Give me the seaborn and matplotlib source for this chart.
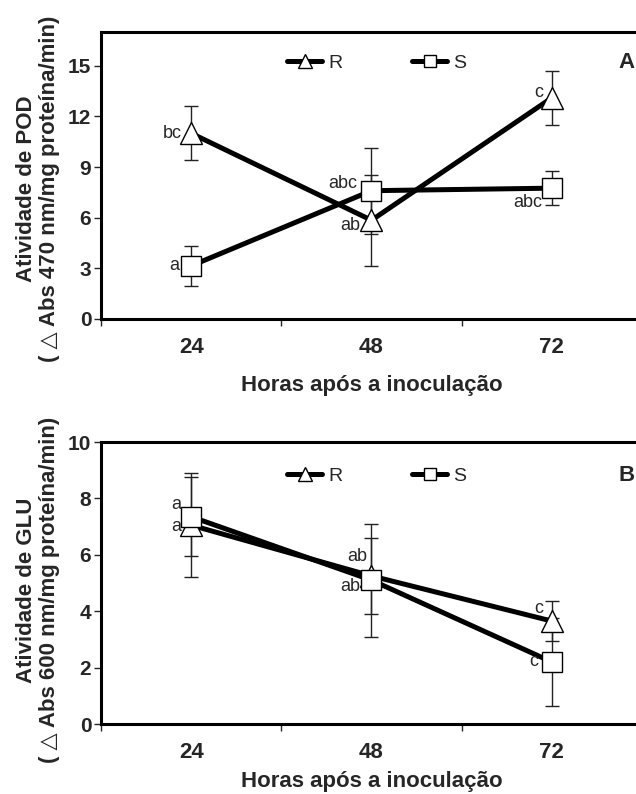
import matplotlib
matplotlib.use("Agg")
import matplotlib.pyplot as plt
import seaborn as sns
from matplotlib.lines import Line2D
from matplotlib.ticker import FixedLocator

# hours after inoculation (categories)
hours = ["24", "48", "72"]
xpos = [0, 1, 2]

# Panel A - POD activity
pod_r = [11.0, 5.85, 13.1]
pod_r_err = [1.6, 2.7, 1.6]
pod_s = [3.15, 7.6, 7.75]
pod_s_err = [1.2, 2.55, 1.0]
pod_r_lab = ["bc", "ab", "c"]
pod_s_lab = ["a", "abc", "abc"]

# Panel B - GLU activity
glu_r = [7.05, 5.25, 3.65]
glu_r_err = [1.85, 1.35, 0.7]
glu_s = [7.35, 5.1, 2.2]
glu_s_err = [1.4, 2.0, 1.55]
glu_r_lab = ["a", "ab", "c"]
glu_s_lab = ["a", "ab", "c"]

sns.set_style("white")
plt.rcParams["font.family"] = ["Liberation Sans", "DejaVu Sans"]

fig = plt.figure(figsize=(6.36, 7.94), dpi=100)
W, H = 636, 794


def panel(rect, r, r_err, s, s_err, r_lab, s_lab, r_off, s_off, ymax, yticks,
          ylabel, letter, lab_y, letter_y):
    ax = fig.add_axes(rect)
    # error bars first so the markers sit on top
    ax.errorbar(xpos, r, yerr=r_err, fmt="none", ecolor="#222222", elinewidth=1,
                capsize=5, capthick=1, zorder=1)
    ax.errorbar(xpos, s, yerr=s_err, fmt="none", ecolor="#222222", elinewidth=1,
                capsize=5, capthick=1, zorder=1)
    sns.lineplot(x=xpos, y=r, ax=ax, color="black", lw=3.6, marker="^", ms=16,
                 markerfacecolor="white", markeredgecolor="black",
                 markeredgewidth=1, zorder=3)
    sns.lineplot(x=xpos, y=s, ax=ax, color="black", lw=3.6, marker="s", ms=14,
                 markerfacecolor="white", markeredgecolor="black",
                 markeredgewidth=1, zorder=3)

    for i in range(3):
        ax.annotate(r_lab[i], (xpos[i], r[i]), xytext=r_off[i], textcoords="offset points",
                    ha="right", va="center", fontsize=13, zorder=5)
        ax.annotate(s_lab[i], (xpos[i], s[i]), xytext=s_off[i], textcoords="offset points",
                    ha="right", va="center", fontsize=13, zorder=5)

    ax.set_xlim(-0.5, 2.5)
    ax.set_ylim(0, ymax)
    ax.set_yticks(yticks)
    ax.set_xticks(xpos)
    ax.set_xticklabels(hours)
    ax.xaxis.set_minor_locator(FixedLocator([-0.5, 0.5, 1.5]))
    ax.tick_params(axis="x", which="major", length=0, pad=13, labelsize=16)
    ax.tick_params(axis="x", which="minor", length=5, width=1, direction="out", bottom=True)
    ax.tick_params(axis="y", length=5, width=1, direction="out", left=True, pad=2,
                   labelsize=15)
    for t in ax.get_xticklabels() + ax.get_yticklabels():
        t.set_fontweight("bold")

    for sp in ax.spines.values():
        sp.set_linewidth(2.2)
        sp.set_color("black")

    ax.set_xlabel("Horas após a inoculação", fontsize=16, fontweight="bold")
    ax.set_ylabel(ylabel, fontsize=16, fontweight="bold", linespacing=1.15)
    ax.yaxis.set_label_coords(-0.075, lab_y)

    handles = [
        Line2D([], [], color="black", lw=3.6, marker="^", ms=10, mfc="white", mec="black", mew=1),
        Line2D([], [], color="black", lw=3.6, marker="s", ms=9, mfc="white", mec="black", mew=1),
    ]
    ax.legend(handles, ["R", "S"], ncol=2, loc="center left",
              bbox_to_anchor=(0.344, letter_y), frameon=False, fontsize=14,
              handlelength=1.8, handletextpad=0.3, columnspacing=3.6,
              borderpad=0, borderaxespad=0)
    ax.text(0.956, letter_y, letter, transform=ax.transAxes, ha="left", va="center",
            fontsize=16, fontweight="bold")
    return ax


axA = panel([101 / W, 1 - 319 / H, 541 / W, 287 / H],
            pod_r, pod_r_err, pod_s, pod_s_err, pod_r_lab, pod_s_lab,
            [(-6.5, 0), (-8, -4), (-6.5, 3.5)],
            [(-8.5, 0), (-10, 5), (-7, -10)],
            17, [0, 3, 6, 9, 12, 15],
            "Atividade de POD\n( △ Abs 470 nm/mg proteína/min)", "A", 0.455, 0.892)
axA.xaxis.labelpad = 12

axB = panel([101 / W, 1 - 724 / H, 541 / W, 282 / H],
            glu_r, glu_r_err, glu_s, glu_s_err, glu_r_lab, glu_s_lab,
            [(-7, -1), (-3, 14), (-6.5, 9)],
            [(-7, 8.5), (-8, -4.5), (-10, 0)],
            10, [0, 2, 4, 6, 8, 10],
            "Atividade de GLU\n( △ Abs 600 nm/mg proteína/min)", "B", 0.475, 0.88)
axB.xaxis.labelpad = 6

fig.savefig("out.png", dpi=100)
